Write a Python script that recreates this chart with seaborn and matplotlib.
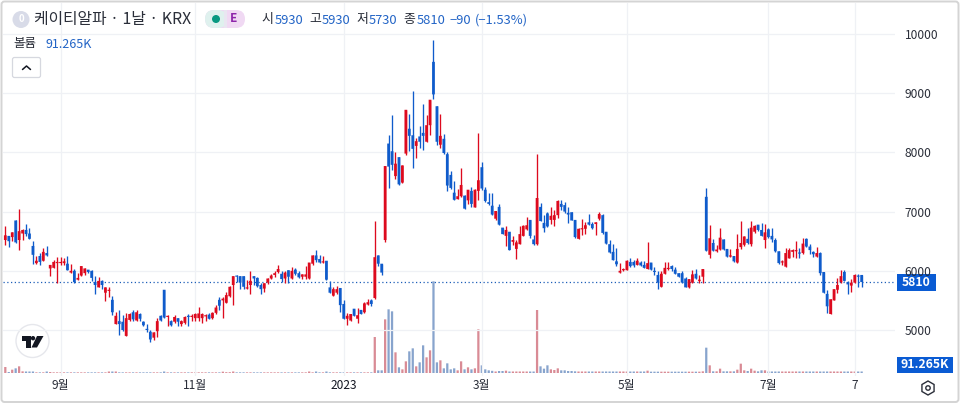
import numpy as np
import pandas as pd
import matplotlib
matplotlib.use("Agg")
import matplotlib.pyplot as plt
import seaborn as sns
from matplotlib.lines import Line2D
from matplotlib.patches import Circle, FancyBboxPatch, Polygon, Rectangle, RegularPolygon
from matplotlib.transforms import Affine2D

# Daily candles
opens = [
    6520, 6590, 6570, 6850, 6520, 6630, 6690, 6630, 6420, 6130,
    6250, 6170, 6300, 6040, 6050, 6130, 6130, 6130, 6120, 5970,
    6000, 5850, 5920, 5960, 6020, 6000, 5810, 5720, 5830, 5630,
    5660, 5510, 5100, 5150, 5140, 4900, 5170, 5300, 5160, 5270,
    5140, 5020, 4970, 4870, 4980, 5240, 5680, 5220, 5150, 5140,
    5200, 5100, 5120, 5240, 5220, 5200, 5200, 5200, 5230, 5260,
    5200, 5290, 5510, 5500, 5460, 5570, 5760, 5920, 5910, 5910,
    5700, 5760, 5910, 5880, 5760, 5700, 5800, 5870, 5930, 5980,
    5950, 5870, 6010, 5870, 6020, 5960, 5900, 5900, 5870, 6120,
    6260, 6200, 6140, 6170, 5720, 5580, 5630, 5710, 5440, 5190,
    5160, 5360, 5190, 5340, 5300, 5430, 5500, 5540, 6260, 6120,
    6520, 8150, 8020, 7600, 7920, 7490, 7980, 8400, 8290, 8110,
    8270, 8330, 8180, 8460, 9530, 8780, 8130, 8230, 7970, 7620,
    7320, 7210, 7260, 7270, 7190, 7350, 7070, 7350, 7750, 7370,
    7160, 7100, 6880, 7080, 6730, 6590, 6660, 6490, 6370, 6450,
    6590, 6700, 6860, 6530, 6450, 7080, 6810, 6970, 6860, 6860,
    6940, 7130, 7110, 6980, 6990, 6860, 6540, 6700, 6710, 6820,
    6790, 6790, 6880, 6940, 6660, 6450, 6320, 6160, 5970, 6010,
    6010, 6150, 6150, 6100, 6140, 6100, 6030, 6140, 6000, 5930,
    5730, 5950, 6030, 6080, 6020, 5960, 5960, 5870, 5720, 5800,
    5950, 5830, 5900, 7250, 6270, 6470, 6330, 6360, 6530, 6370,
    6240, 6250, 6140, 6400, 6440, 6540, 6450, 6660, 6780, 6690,
    6520, 6700, 6590, 6520, 6330, 6140, 6070, 6210, 6320, 6330,
    6310, 6300, 6540, 6410, 6320, 6240, 6300, 5980, 5610, 5270,
    5500, 5680, 5810, 5980, 5810, 5750, 5800, 5920, 5930,
]
highs = [
    6760, 6590, 6660, 6860, 7050, 6700, 6790, 6720, 6500, 6250,
    6300, 6380, 6420, 6100, 6180, 6240, 6240, 6210, 6250, 6120,
    6030, 5960, 6080, 6040, 6020, 6020, 5910, 5890, 5850, 5730,
    5720, 5570, 5310, 5340, 5250, 5290, 5290, 5330, 5330, 5280,
    5150, 5100, 5000, 4960, 5200, 5250, 5680, 5250, 5170, 5250,
    5200, 5170, 5240, 5270, 5270, 5280, 5390, 5280, 5270, 5290,
    5300, 5420, 5560, 5560, 5640, 5740, 5920, 5930, 5920, 5920,
    5850, 6000, 5910, 5890, 5790, 5800, 5880, 5940, 5990, 6100,
    5990, 5990, 6020, 6060, 6040, 6000, 5940, 6080, 6140, 6270,
    6350, 6270, 6250, 6170, 5830, 5720, 5740, 5710, 5500, 5280,
    5270, 5360, 5370, 5340, 5480, 5530, 5530, 6840, 6270, 6120,
    7770, 8290, 8630, 8010, 7920, 7780, 8720, 8650, 9040, 8250,
    8450, 8820, 8630, 8890, 9900, 8780, 8650, 8310, 8010, 7690,
    7520, 7390, 7730, 7280, 7370, 7410, 7390, 8320, 7840, 7410,
    7310, 7310, 7010, 7130, 6730, 6760, 6660, 6580, 6520, 6750,
    6770, 6910, 6860, 6600, 7970, 7140, 6940, 7000, 7080, 7030,
    7200, 7200, 7170, 7080, 6990, 6860, 6720, 6870, 6830, 6960,
    6830, 6820, 6990, 6960, 6660, 6520, 6460, 6380, 6140, 6040,
    6180, 6210, 6180, 6210, 6160, 6160, 6480, 6140, 6070, 6000,
    5990, 6150, 6150, 6100, 6060, 5970, 6000, 5890, 5870, 6020,
    6030, 5930, 6030, 7400, 6770, 6530, 6440, 6730, 6530, 6370,
    6370, 6250, 6630, 6840, 6580, 6720, 6840, 6770, 6780, 6810,
    6790, 6720, 6730, 6550, 6330, 6180, 6380, 6380, 6360, 6510,
    6380, 6550, 6550, 6450, 6340, 6410, 6310, 5980, 5680, 5520,
    5700, 5880, 6010, 6020, 5830, 5870, 5950, 5950, 5930,
]
lows = [
    6440, 6410, 6500, 6470, 6350, 6520, 6580, 6540, 6110, 6120,
    6100, 6170, 6250, 5910, 6040, 5800, 6100, 6100, 6010, 5960,
    5800, 5840, 5910, 5930, 5960, 5830, 5610, 5720, 5690, 5490,
    5560, 5250, 5100, 4920, 4990, 4900, 5160, 5160, 5160, 5160,
    5070, 4970, 4790, 4830, 4890, 5150, 5200, 5060, 5070, 5120,
    5070, 5060, 5100, 5070, 5160, 5160, 5160, 5120, 5160, 5180,
    5190, 5270, 5340, 5200, 5460, 5560, 5420, 5810, 5700, 5700,
    5690, 5610, 5760, 5720, 5610, 5640, 5780, 5860, 5900, 5970,
    5810, 5800, 5800, 5860, 5930, 5880, 5860, 5870, 5860, 6100,
    6150, 6140, 6130, 5850, 5630, 5580, 5610, 5300, 5180, 5090,
    5160, 5240, 5120, 5270, 5290, 5420, 5410, 5530, 6080, 5930,
    6490, 7400, 7700, 7550, 7450, 7490, 7950, 8030, 7740, 7900,
    8070, 8040, 8180, 8300, 8900, 8130, 8080, 7970, 7350, 7390,
    7190, 7210, 7250, 7040, 7130, 7080, 7070, 7200, 7370, 7160,
    7110, 6940, 6860, 6770, 6620, 6420, 6350, 6440, 6200, 6450,
    6590, 6690, 6560, 6440, 6440, 6840, 6660, 6740, 6790, 6760,
    6900, 7030, 6970, 6810, 6850, 6550, 6540, 6610, 6620, 6770,
    6700, 6600, 6860, 6630, 6450, 6300, 6180, 6080, 5970, 5990,
    6010, 6070, 6070, 6090, 6080, 6040, 6030, 6010, 5930, 5690,
    5730, 5950, 6020, 6000, 5950, 5890, 5790, 5720, 5710, 5800,
    5860, 5800, 5800, 6340, 6210, 6340, 6320, 6350, 6350, 6230,
    6230, 6150, 6130, 6360, 6420, 6450, 6420, 6640, 6680, 6580,
    6390, 6560, 6490, 6320, 6120, 6100, 6070, 6210, 6240, 6210,
    6220, 6280, 6400, 6280, 6240, 6230, 5930, 5620, 5290, 5270,
    5500, 5630, 5790, 5820, 5610, 5640, 5790, 5730, 5730,
]
closes = [
    6600, 6500, 6650, 6480, 6670, 6690, 6620, 6540, 6270, 6170,
    6150, 6320, 6260, 6100, 6150, 6150, 6150, 6160, 6010, 6000,
    5810, 5880, 6080, 6040, 5980, 5880, 5760, 5830, 5760, 5720,
    5680, 5300, 5240, 5100, 5000, 5200, 5270, 5180, 5300, 5190,
    5080, 5000, 4840, 4960, 5150, 5160, 5210, 5240, 5080, 5220,
    5140, 5150, 5220, 5220, 5240, 5270, 5280, 5270, 5250, 5190,
    5290, 5380, 5410, 5530, 5590, 5730, 5910, 5900, 5800, 5730,
    5720, 5830, 5870, 5740, 5690, 5790, 5870, 5920, 5960, 6030,
    5860, 5970, 5900, 6000, 5950, 5890, 5940, 5940, 6140, 6260,
    6180, 6140, 6160, 5850, 5630, 5690, 5690, 5420, 5190, 5240,
    5270, 5240, 5250, 5270, 5450, 5470, 5440, 6230, 6120, 5970,
    7770, 7760, 7790, 7810, 7460, 7780, 8720, 8280, 8060, 8190,
    8180, 8280, 8460, 8890, 8980, 8180, 8280, 7990, 7440, 7400,
    7200, 7260, 7450, 7050, 7370, 7130, 7370, 7530, 7390, 7180,
    7130, 6950, 7010, 6780, 6620, 6690, 6350, 6520, 6480, 6620,
    6760, 6770, 6590, 6450, 7230, 6840, 6720, 6750, 6930, 6940,
    7180, 7080, 7000, 6950, 6850, 6570, 6710, 6720, 6770, 6780,
    6720, 6820, 6960, 6640, 6460, 6310, 6180, 6110, 6000, 6030,
    6170, 6080, 6090, 6170, 6090, 6050, 6130, 6020, 5980, 5800,
    5950, 6050, 6050, 6030, 5950, 5900, 5800, 5720, 5860, 5940,
    5870, 5850, 6030, 6340, 6550, 6340, 6360, 6560, 6360, 6240,
    6260, 6160, 6370, 6470, 6580, 6470, 6730, 6760, 6690, 6590,
    6650, 6570, 6530, 6330, 6130, 6160, 6300, 6350, 6350, 6350,
    6290, 6460, 6410, 6350, 6280, 6300, 5960, 5630, 5400, 5520,
    5690, 5760, 5910, 5830, 5770, 5800, 5930, 5900, 5810,
]
# Volume in thousands of shares
volumes = [
    360, 60, 200, 280, 400, 100, 90, 90, 90, 40,
    40, 40, 90, 60, 40, 40, 40, 40, 40, 40,
    40, 40, 40, 40, 40, 40, 40, 40, 40, 40,
    90, 90, 90, 40, 40, 40, 40, 40, 40, 40,
    40, 40, 40, 40, 40, 40, 90, 40, 40, 40,
    40, 40, 40, 40, 40, 40, 40, 40, 40, 40,
    40, 40, 40, 80, 50, 50, 90, 40, 40, 40,
    40, 40, 40, 40, 40, 40, 40, 40, 40, 40,
    40, 40, 40, 40, 40, 40, 40, 40, 90, 40,
    90, 40, 40, 90, 40, 40, 40, 40, 40, 40,
    40, 40, 40, 40, 40, 40, 40, 2160, 160, 160,
    3220, 3820, 3700, 1240, 340, 220, 700, 1300, 1480, 400,
    640, 1660, 940, 1360, 5500, 640, 760, 280, 580, 220,
    280, 160, 700, 220, 340, 220, 280, 2620, 460, 220,
    160, 130, 90, 120, 120, 140, 90, 90, 90, 90,
    90, 90, 90, 90, 3780, 400, 260, 460, 220, 180,
    280, 160, 160, 120, 120, 100, 90, 90, 90, 90,
    90, 90, 90, 90, 90, 90, 90, 90, 90, 90,
    90, 90, 90, 90, 90, 90, 140, 80, 80, 80,
    80, 80, 80, 80, 80, 80, 80, 80, 80, 80,
    80, 80, 100, 1520, 460, 100, 100, 260, 100, 100,
    100, 100, 200, 560, 160, 120, 260, 140, 100, 160,
    160, 90, 90, 90, 90, 90, 90, 90, 90, 90,
    90, 90, 90, 90, 90, 90, 90, 90, 90, 90,
    90, 90, 90, 90, 90, 90, 90, 90, 91.265,
]

price_ticks = [5000, 6000, 7000, 8000, 9000, 10000]
month_days = [16, 55, 98, 138, 180, 221, 246]
month_labels = ["9월", "11월", "2023", "3월", "5월", "7월", "7"]
last_price = 5810

sns.set_style("white")
plt.rcParams["font.family"] = ["Noto Sans CJK KR", "DejaVu Sans"]

RED = "#dd0a1e"
BLUE = "#0f5bcb"
RED_VOL = "#e67e8b"
BLUE_VOL = "#7da2d8"
GRID = "#eff1f5"
TEXT = "#2a2e39"
VALUE = "#2264c6"
TAG = "#0a5bd3"

df = pd.DataFrame({"open": opens, "high": highs, "low": lows, "close": closes, "volume": volumes})
df["day"] = df.index
df["dir"] = np.where(df["close"] >= df["open"], "up", "down")
df["color"] = df["dir"].map({"up": RED, "down": BLUE})

fig = plt.figure(figsize=(9.6, 4.04), dpi=100)
fig.patch.set_facecolor("white")
ax = fig.add_axes([3 / 960, 1 - 376 / 404, 892 / 960, 373 / 404])
ax_vol = ax.twinx()

# Volume goes behind the candles
sns.barplot(data=df, x="day", y="volume", hue="dir", hue_order=["up", "down"],
            palette={"up": RED_VOL, "down": BLUE_VOL}, native_scale=True, dodge=False,
            width=0.65, linewidth=0, legend=False, ax=ax_vol)
ax_vol.set_ylim(-180, 22200)
ax_vol.set_yticks([])
ax_vol.set_ylabel("")
ax_vol.set_xlabel("")
# pixel snapping makes the bars uneven at this spacing
for p in ax_vol.patches:
    p.set_snap(False)

ax.set_zorder(ax_vol.get_zorder() + 1)
ax.patch.set_visible(False)
ax.vlines(df["day"], df["low"], df["high"], colors=df["color"], linewidth=0.95, zorder=3)
bodies = ax.bar(df["day"], (df["close"] - df["open"]).abs(), bottom=df[["open", "close"]].min(axis=1),
                width=0.8, color=df["color"], linewidth=0, zorder=4)
for p in bodies:
    p.set_snap(False)
ax.axhline(last_price, color="#1d5fb8", linewidth=0.9, linestyle=(0, (1, 2)), zorder=2)

ax.set_xlim(-0.67, 257.66)
ax.set_ylim(4223, 10524)
ax.yaxis.tick_right()
ax.set_yticks(price_ticks)
ax.set_xticks(month_days)
ax.set_xticklabels(month_labels)
ax.tick_params(axis="both", length=0, labelsize=8.6, labelcolor=TEXT)
ax.tick_params(axis="y", pad=7)
ax.tick_params(axis="x", pad=2)
ax.get_xticklabels()[2].set_color("#131722")
ax.grid(True, color=GRID, linewidth=0.9)
ax.set_axisbelow(True)
for spine in list(ax.spines.values()) + list(ax_vol.spines.values()):
    spine.set_visible(False)

# Header and the small widgets, placed in pixels from the top left
px = Affine2D().scale(1 / 960, -1 / 404).translate(0, 1) + fig.transFigure


def label(x, y, s, color=TEXT, size=9.3, **kw):
    fig.text(x, y, s, transform=px, color=color, fontsize=size, va="center", **kw)


fig.add_artist(FancyBboxPatch((1.5, 1.5), 957, 400.5, boxstyle="round,pad=0,rounding_size=3",
                              transform=px, facecolor="none", edgecolor="#d4d4d4", linewidth=1.4))

fig.add_artist(Circle((21, 19.5), 8.5, transform=px, facecolor="#d8dbe8", edgecolor="none"))
label(21, 19.5, "0", color="white", size=7, ha="center", fontweight="bold")
label(34.5, 19.5, "케이티알파 · 1날 · KRX", size=11.4)

fig.add_artist(FancyBboxPatch((205, 10), 40, 18, boxstyle="round,pad=0,rounding_size=9",
                              transform=px, facecolor="#f0d9f3", edgecolor="none"))
fig.add_artist(FancyBboxPatch((205, 10), 22, 18, boxstyle="round,pad=0,rounding_size=9",
                              transform=px, facecolor="#dff1ee", edgecolor="none"))
fig.add_artist(Rectangle((224, 10), 3, 18, transform=px, facecolor="#e9e6f1", edgecolor="none"))
fig.add_artist(Circle((216, 19), 4, transform=px, facecolor="#089981", edgecolor="none"))
label(234, 19, "E", color="#8e24aa", size=8.5, ha="center", fontweight="bold")

label(261, 20, "시")
label(275, 20, "5930", color=VALUE)
label(309, 20, "고")
label(322, 20, "5930", color=VALUE)
label(356, 20, "저")
label(369, 20, "5730", color=VALUE)
label(403, 20, "종")
label(416.5, 20, "5810", color=VALUE)
label(450, 20, "−90", color=VALUE)
label(475, 20, "(−1.53%)", color=VALUE)

label(13, 44, "볼륨", size=9)
label(46, 44, "91.265K", color=VALUE, size=9)

fig.add_artist(FancyBboxPatch((12.5, 57.5), 28, 20, boxstyle="round,pad=0,rounding_size=2",
                              transform=px, facecolor="white", edgecolor="#d6d8df", linewidth=0.9))
fig.add_artist(Line2D([22.5, 26.5, 30.5], [69.5, 66, 69.5], transform=px, color="#131722", linewidth=1.1))

# TradingView badge
fig.add_artist(Circle((32.5, 341), 16.5, transform=px, facecolor="white", edgecolor="#e6e7ec", linewidth=1))
fig.add_artist(Polygon([(22, 336), (31, 336), (31, 347.5), (26, 347.5), (26, 340.5), (22, 340.5)],
                       transform=px, facecolor="#131722", edgecolor="none"))
fig.add_artist(Circle((33, 338.2), 2.2, transform=px, facecolor="#131722", edgecolor="none"))
fig.add_artist(Polygon([(37, 336), (43.5, 336), (37, 347.5), (31.5, 347.5)],
                       transform=px, facecolor="#131722", edgecolor="none"))

# Price and volume tags on the axis
fig.add_artist(Rectangle((897, 274), 39, 17, transform=px, facecolor=TAG, edgecolor="none"))
label(916.5, 282.5, "5810", color="white", size=8.8, ha="center", fontweight="bold")
fig.add_artist(Rectangle((897, 357), 56, 16, transform=px, facecolor=TAG, edgecolor="none"))
label(925, 365, "91.265K", color="white", size=8.8, ha="center", fontweight="bold")

# Settings button
fig.add_artist(RegularPolygon((928, 388), 6, radius=7, transform=px, facecolor="none",
                              edgecolor="#2a2e39", linewidth=1))
fig.add_artist(Circle((928, 388), 2.2, transform=px, facecolor="none", edgecolor="#2a2e39", linewidth=1))

fig.savefig("out.png", dpi=100)
